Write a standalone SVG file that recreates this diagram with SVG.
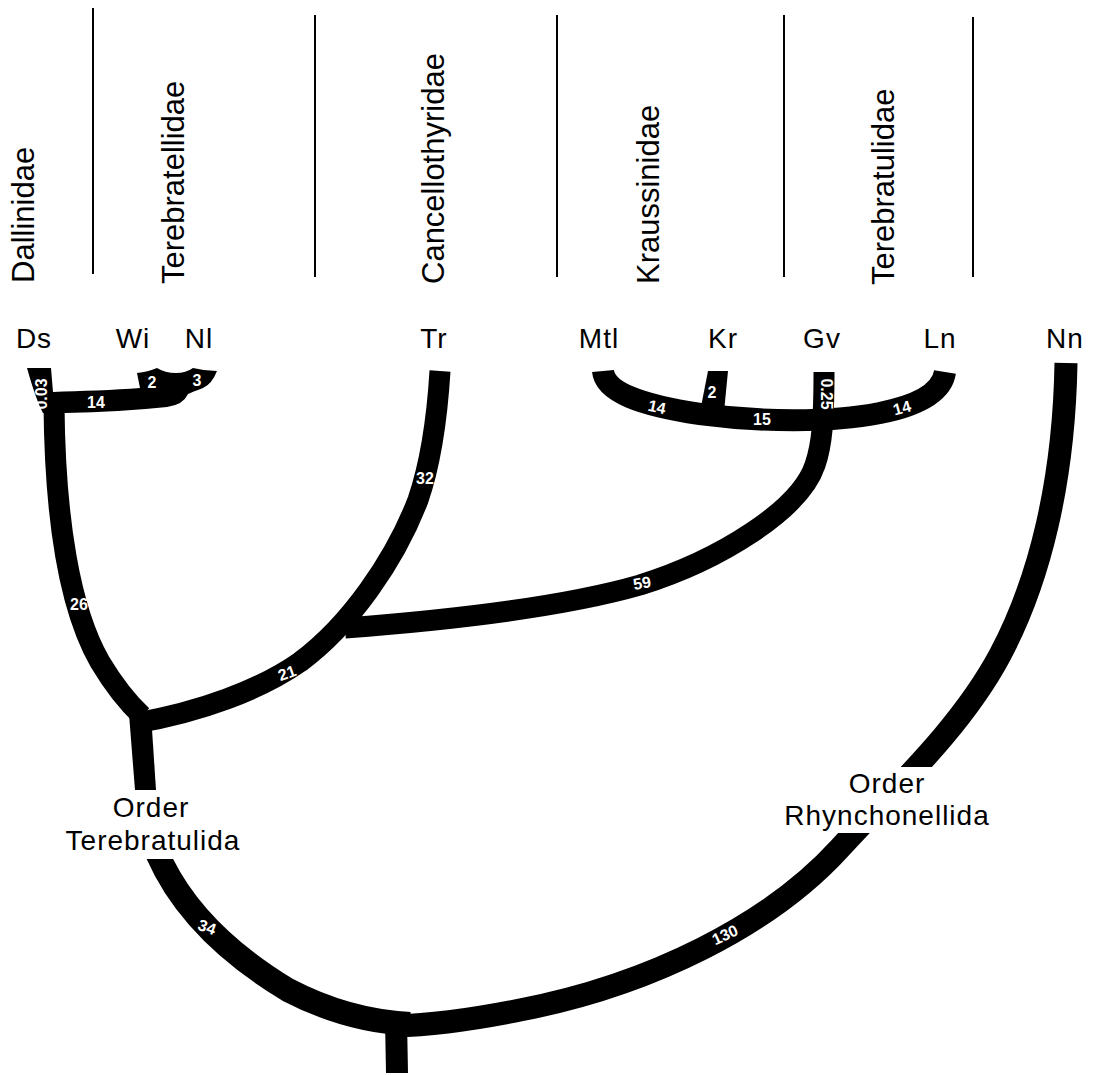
<svg xmlns="http://www.w3.org/2000/svg" width="1098" height="1075" viewBox="0 0 1098 1075">
<style>
.sep{stroke:#000;stroke-width:2;fill:none}
.br{stroke:#000;fill:none;stroke-linecap:butt;stroke-linejoin:round}
.blk{fill:#000}
.fam{font-family:"Liberation Sans",Arial,sans-serif;font-size:31px;fill:#000}
.tip{font-family:"Liberation Sans",Arial,sans-serif;font-size:28px;letter-spacing:1px;fill:#000;text-anchor:middle}
.ord{font-family:"Liberation Sans",Arial,sans-serif;font-size:28px;letter-spacing:1px;fill:#000;text-anchor:middle}
.num{font-family:"Liberation Sans",Arial,sans-serif;font-size:16px;font-weight:bold;fill:#fff;text-anchor:middle;dominant-baseline:central}
</style>
<defs>
<clipPath id="clipR"><rect x="0" y="0" width="1098" height="767"/><rect x="0" y="833" width="1098" height="242"/></clipPath>
<clipPath id="clipL"><rect x="0" y="859" width="1098" height="216"/></clipPath>
</defs>
<rect width="1098" height="1075" fill="#fff"/>

<g id="separators">
<line class="sep" x1="93" y1="8" x2="93" y2="274"/>
<line class="sep" x1="315" y1="15" x2="315" y2="277"/>
<line class="sep" x1="557" y1="15" x2="557" y2="277"/>
<line class="sep" x1="784" y1="15" x2="784" y2="277"/>
<line class="sep" x1="973" y1="17" x2="973" y2="277"/>
</g>

<g id="families">
<text class="fam" transform="translate(34,283) rotate(-90)">Dallinidae</text>
<text class="fam" transform="translate(184,284) rotate(-90)">Terebratellidae</text>
<text class="fam" transform="translate(444,284) rotate(-90)">Cancellothyridae</text>
<text class="fam" transform="translate(659,284) rotate(-90)">Kraussinidae</text>
<text class="fam" transform="translate(894,285) rotate(-90)">Terebratulidae</text>
</g>

<g id="tip-Ds"><text class="tip" x="34" y="348">Ds</text></g>
<g id="tip-Wi"><text class="tip" x="133" y="348">Wi</text></g>
<g id="tip-Nl"><text class="tip" x="199" y="348">Nl</text></g>
<g id="tip-Tr"><text class="tip" x="434" y="348">Tr</text></g>
<g id="tip-Mtl"><text class="tip" x="599" y="348">Mtl</text></g>
<g id="tip-Kr"><text class="tip" x="723" y="348">Kr</text></g>
<g id="tip-Gv"><text class="tip" x="822" y="348">Gv</text></g>
<g id="tip-Ln"><text class="tip" x="940" y="348">Ln</text></g>
<g id="tip-Nn"><text class="tip" x="1065" y="348">Nn</text></g>

<g id="order-terebratulida">
<text class="ord" x="151" y="817">Order</text>
<text class="ord" x="153" y="850">Terebratulida</text>
</g>
<g id="order-rhynchonellida">
<text class="ord" x="887" y="793">Order</text>
<text class="ord" x="887" y="825">Rhynchonellida</text>
</g>

<g id="connectors">
<path class="blk" d="M27,368 L51,368 L53,392 C80,391 115,390 140,388 L137,373 Q148,372 157,368 Q165,373 176,373 Q186,373 193,368 Q205,371 217,371 Q212,384 203,388 Q192,392 188,394 Q183,405 167,407 Q120,412 65,413 L43,413 Q36,400 27,368 Z"/>
<path class="br" stroke-width="21" d="M54,405 C55,520 70,610 100,662 C112,682 125,700 142,716"/>
<polygon class="blk" points="129,714 151,714 156,790 135,790"/>
<path class="br" stroke-width="21" d="M136,723 C200,712 260,690 300,662 C350,625 395,560 418,500 C430,465 437,420 440,371"/>
<path class="br" stroke-width="21" d="M345,628 C450,620 560,608 640,585 C720,560 800,510 815,465 C822,445 824,420 824,372"/>
<path class="br" stroke-width="22" d="M603,371 C605,392 640,405 700,414 C760,422 830,423 880,413 C920,405 942,392 945,372"/>
<polygon class="blk" points="708,371 728,371 724,412 700,412"/>
<path class="br" stroke-width="23" clip-path="url(#clipR)" d="M1066,363 C1064,480 1040,580 1000,655 C960,730 890,793 840,848 C770,925 650,985 520,1010 C470,1020 430,1025 395,1026"/>
<path class="br" stroke-width="24" clip-path="url(#clipL)" d="M155,848 C178,905 225,952 288,990 C330,1012 370,1022 410,1024"/>
<polygon class="blk" points="385,1020 407,1020 408,1073 386,1073"/>
</g>

<g id="branch-lengths">
<text class="num" transform="translate(41,394) rotate(-90)">0.03</text>
<text class="num" x="96" y="402">14</text>
<text class="num" x="152" y="382">2</text>
<text class="num" x="197" y="380">3</text>
<text class="num" x="79" y="604">26</text>
<text class="num" transform="translate(287,673) rotate(-20)">21</text>
<text class="num" x="425" y="478">32</text>
<text class="num" transform="translate(642,583) rotate(-10)">59</text>
<text class="num" transform="translate(657,407) rotate(12)">14</text>
<text class="num" x="712" y="392">2</text>
<text class="num" x="762" y="419">15</text>
<text class="num" transform="translate(826,394) rotate(90)">0.25</text>
<text class="num" transform="translate(902,408) rotate(-15)">14</text>
<text class="num" transform="translate(207,927) rotate(20)">34</text>
<text class="num" transform="translate(725,935) rotate(-25)">130</text>
</g>
</svg>
